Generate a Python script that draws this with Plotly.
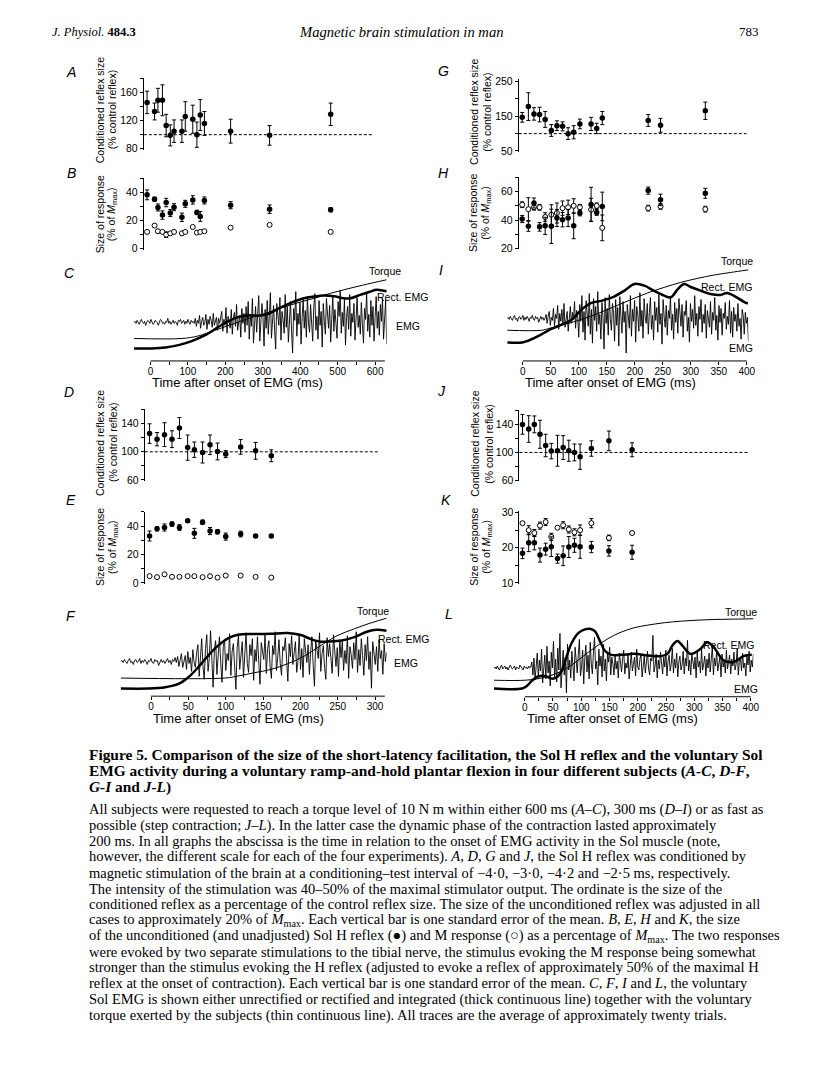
import numpy as np
import plotly.graph_objects as go

PAGE_W, PAGE_H = 816, 1070
BODY = 8                       # default body margin of the html page
W, H = PAGE_W - 2 * BODY, PAGE_H - 2 * BODY
SANS = "Liberation Sans, Arial, sans-serif"
SERIF = "Liberation Serif, Times New Roman, serif"

# ---------------- data: subject 1 (A-C, 600 ms ramp) ----------------
AB_time = [-9, 11, 20, 32, 42, 53, 63, 84, 93, 113, 124, 133, 144, 214, 318, 481]
A_cond = [146, 133, 149, 149, 113, 99, 105, 105, 126, 122, 100, 128, 116, 105, 99, 129]
A_cond_se = [16, 12, 17, 22, 16, 15, 16, 16, 21, 20, 18, 22, 17, 17, 14, 16]
B_H = [38.4, 35.3, 29.4, 24, 32.9, 25.4, 29.6, 22.4, 32, 34.8, 25.9, 23, 34.4, 31, 28.2, 27.8]
B_H_se = [3.5, 1.5, 2.5, 3, 3, 2.5, 2.5, 3, 2.5, 3, 1.5, 3.5, 2.5, 2.5, 3, 1.5]
B_M = [12, 16.5, 12.5, 12, 10, 11, 12, 11, 12, 15.5, 11.5, 12, 12.5, 15, 17, 12]
B_M_se = [0, 0, 0, 0, 2, 0, 0, 0, 0, 0, 0, 0, 0, 0, 0, 0]

C_torque_t = [-44, 84, 128, 172, 216, 260, 304, 349, 393, 437, 481, 525, 569, 631]
C_torque_v = [22.7, 22.7, 25.3, 31, 36.7, 42.7, 47.7, 53.3, 58.7, 63.3, 68.3, 72.7, 76.7, 82]
C_rect_t = [-44, 4, 40, 75, 110, 146, 181, 207, 234, 260, 287, 313, 340, 375, 410, 437,
            463, 490, 516, 534, 560, 587, 604, 631]
C_rect_v = [12.7, 12.7, 13.7, 16, 20, 26, 34.3, 40, 44.3, 46, 45.7, 47.3, 52.7, 58.7, 63.3, 65,
            66, 65.3, 63.3, 63.3, 66.7, 70, 72, 70.3]
C_emg_span = [-44, 631]
C_emg = [39, 40, 38, 41, 39, 37, 40, 42, 39, 38, 40, 36, 39, 41, 40, 38, 42, 39, 37, 38, 41, 40, 39,
         36, 40, 42, 41, 38, 39, 37, 40, 39, 43, 38, 40, 37, 39, 41, 38, 40, 39, 36, 41, 40, 42, 38,
         39, 41, 37, 40, 38, 42, 39, 37, 41, 39, 40, 38,
         43, 35, 41, 38, 46, 33, 40, 44, 36, 39, 47, 32, 42, 37, 45, 41, 34, 48, 36, 40, 44, 31, 43,
         38, 46,
         50, 30, 42, 36, 54, 28, 45, 40, 33, 52, 27, 44, 49, 35, 57, 31, 41, 46, 24, 53, 38, 48, 29,
         55, 36,
         60, 22, 47, 35, 63, 18, 41, 55, 29, 50, 66, 20, 38, 58, 44, 15, 52, 33, 61, 27, 45, 69, 23,
         39, 56, 31, 12, 58, 47, 36, 64, 21, 50, 42, 28, 67, 34, 55, 19, 46, 60, 30, 8, 53, 41, 70,
         25, 48, 37, 59, 17, 44, 62, 33, 51, 24, 65, 38, 29, 57, 43, 20, 54, 68, 31, 45, 22, 61, 36,
         50, 14, 58, 40, 27, 63, 47, 33, 56, 19, 42, 66, 30, 52, 38, 23, 60, 45, 71, 28, 49, 35, 62,
         16, 44, 55, 32, 67, 25, 48, 39, 58, 21, 51, 64, 34, 46, 27, 59, 37, 18, 53, 42, 69, 30, 47,
         24, 61, 36, 55, 20, 44, 65, 33, 50, 26, 57, 40, 63, 22, 48, 62, 17]

# ---------------- data: subject 2 (D-F, 300 ms ramp) ----------------
DE_time = [-2, 8, 18, 28, 38, 49, 58, 69, 79, 89, 100, 120, 140, 161]
D_cond = [126, 118, 124.5, 118, 134, 106, 103, 99, 110, 100.5, 96.7, 107, 101.4, 94.4]
D_cond_se = [14, 9.5, 17, 12, 15, 18, 11, 15, 14, 12, 5, 10.5, 12, 8.5]
E_H = [33, 38.1, 39, 41.4, 39, 43.7, 34.9, 42.8, 36.5, 36, 32.6, 34.4, 33, 33]
E_H_se = [3.5, 1.5, 2.5, 1.5, 2, 1, 3.5, 1.5, 2.5, 1.5, 2.5, 2, 1, 1]
E_M = [4.7, 4, 6, 4.2, 4.2, 4.7, 4.7, 4, 4.7, 3.7, 5.1, 5.1, 4.2, 3.7]
E_M_se = [0] * 14

F_torque_t = [-40.7, 98.7, 116.4, 138.5, 160.6, 182.7, 204.9, 227, 249.1, 271.2, 293.4, 315.5]
F_torque_v = [18.3, 18.3, 20.3, 23.7, 27, 32.7, 40.3, 51, 61, 67.7, 73.7, 78.7]
F_rect_t = [-40.7, -3, 19, 36.7, 50, 63.3, 76.5, 89.8, 103, 116.4, 138.5, 160.6, 182.7, 200.4,
            213.7, 227, 240.3, 253.5, 271.2, 289, 302, 315.5]
F_rect_v = [7.7, 7.7, 9, 12.3, 19, 29.3, 41, 51, 58.3, 62, 62.7, 63, 63.7, 61.7, 57.7, 55, 55.3,
            56, 59.3, 65, 67, 66]
F_emg_span = [-40.7, 315.5]
F_emg = [35, 36, 34, 37, 35, 33, 36, 38, 34, 35, 32, 36, 37, 34, 35, 38, 33, 36, 34, 37, 35, 32, 36,
         35, 38, 34, 33, 37, 35, 36, 31, 35, 37, 34, 36, 33, 35, 38, 34, 36, 32, 37, 35, 39, 34,
         40, 30, 37, 43, 29, 36, 41, 27, 45, 33, 39, 25, 47, 34, 29, 44,
         52, 20, 43, 58, 30, 17, 48, 62, 25, 38, 66, 28, 9, 47, 56, 22, 40, 60, 34, 14, 50, 57, 26,
         43, 36, 63, 21, 45, 53, 31, 7, 49, 61, 27, 39, 55, 19, 44, 64, 33, 24, 52, 41, 58, 16, 47,
         35, 60, 29, 12, 54, 45, 37, 62, 23, 48, 56, 30, 18, 51, 42, 65, 26, 39, 57, 33, 21, 50, 46,
         59, 28, 15, 53, 40, 61, 32, 44, 55, 24, 36, 63, 27, 48, 19, 58, 42, 34, 52, 22, 45, 60, 31,
         10, 56, 47, 38, 64, 25, 43, 51, 29, 17, 59, 40, 53, 35, 23, 62, 44, 30, 49, 20, 57, 39, 55,
         26, 46, 33, 61, 18, 50, 42, 28, 54, 37, 65, 24, 47, 31, 58, 41, 21, 52, 36, 60, 27, 45, 8,
         55, 43, 32, 50, 25, 57, 38, 46, 22, 53, 35, 44]

# ---------------- data: subject 3 (G-I, 300 ms ramp) ----------------
GH_time = [-1, 10, 20, 30, 40, 51, 61, 71, 81, 91, 102, 122, 132, 142, 224, 246, 326]
G_cond = [147, 178, 157, 155, 141, 109, 123, 121, 100, 104, 128, 128, 115, 145, 138, 124, 166]
G_cond_se = [14, 40, 18, 21, 23, 17, 14, 13, 17, 19, 14, 19, 15, 19, 17, 20, 25]
H_H = [40.8, 35.7, 52, 35.3, 36, 35.7, 41.5, 40.3, 41.5, 36, 45, 51, 45.4, 49.6, 60.7, 54.2, 58.8]
H_H_se = [2.5, 3.5, 3.5, 3, 6, 12, 6, 5, 6, 9, 2, 12, 2, 10, 2.5, 4, 3.5]
H_M = [50.8, 47.7, 49, 49, 42.2, 43.8, 45, 48.4, 49, 50, 49, 47.3, 50, 34.6, 48.4, 49.6, 47.7]
H_M_se = [2, 8, 2, 2, 3, 7, 7, 5, 5, 5, 2, 8, 2, 9, 2, 2, 2]

I_torque_t = [-28, 34, 46, 75.5, 105, 134.5, 164, 193.5, 223, 252.5, 282, 311.5, 341, 370.5, 403]
I_torque_v = [31, 31, 32.7, 37, 42, 48, 55, 62, 68.7, 74.3, 79.3, 83.3, 86.7, 89.3, 92]
I_rect_t = [-27.7, -1.2, 10.6, 28.3, 46, 63.7, 87.3, 105, 122.7, 140.4, 152.2, 164, 181.7, 199.4,
            217.1, 234.8, 252.5, 264.3, 276.1, 287.9, 299.7, 317.4, 335.1, 352.8, 364.6, 376.4,
            394.1, 401.8]
I_rect_v = [18.7, 18.7, 20.7, 25.3, 31, 35.3, 41.7, 52, 58.7, 60.7, 62.7, 65.3, 71, 77.7, 76,
            70.7, 66, 64.3, 72, 77.7, 74.7, 71, 67.7, 66.7, 68.7, 66, 60, 58]
I_emg_span = [-28, 403]
I_emg = [43, 44, 42, 45, 43, 41, 44, 46, 42, 43, 40, 44, 45, 42, 43, 46, 41, 44, 42, 45, 43, 40, 44,
         43, 46, 42, 41, 45, 43, 44, 39, 43, 45, 42, 44, 41, 43,
         47, 38, 45, 50, 36, 44, 41, 53, 35, 47, 43, 56, 32, 48, 40, 52, 37, 58, 34, 46, 50, 30, 44,
         55, 38, 49, 42, 60, 33, 51,
         44, 24, 57, 40, 66, 29, 50, 21, 61, 45, 35, 68, 27, 52, 18, 63, 41, 55, 30, 70, 37, 47, 22,
         59, 44, 12, 64, 38, 53, 26, 67, 42, 31, 58, 48, 20, 62, 36, 54, 15, 65, 45, 28, 60, 39, 50,
         8, 57, 43, 33, 66, 25, 52, 40, 61, 19, 55, 47, 30, 69, 35, 51, 23, 63, 44, 38, 58, 27, 49,
         64, 32, 46, 21, 60, 41, 54, 29, 67, 37, 48, 17, 62, 45, 34, 56, 26, 51, 43, 65, 31, 47, 22,
         59, 39, 53, 28, 63, 42, 35, 57, 24, 50, 46, 61, 30, 44, 19, 58, 40, 52, 33, 66, 36, 48, 25,
         55, 42, 62, 29, 47, 38, 57, 23, 51, 44, 34, 60, 27, 49, 41, 64, 31, 46, 21, 56, 39, 53, 26,
         48, 43, 59, 32, 45, 37, 61, 28, 50, 24, 54, 40, 47, 30, 58, 35, 43, 22, 52, 46, 27, 49, 38,
         44, 20]

# ---------------- data: subject 4 (J-L, step contraction) ----------------
JK_time = [-4, 7, 17, 27, 37, 47, 58, 68, 78, 88, 98, 118, 149, 190]
J_cond = [140, 133.4, 140, 125.9, 109.9, 101.9, 102.4, 107, 102.4, 100, 93.9, 105.6, 116.5, 103.8]
J_cond_se = [14, 19, 12, 20, 16, 11, 22, 17, 15, 12, 18, 11, 14, 10]
K_H = [18.4, 21.4, 21.4, 17.9, 19.6, 20.3, 16.9, 17.7, 20.2, 20.7, 20.3, 20.2, 19.1, 18.7]
K_H_se = [1.5, 2.5, 2, 2, 1.7, 2.8, 1.3, 2.8, 3, 2, 3.3, 1.6, 1.5, 2]
K_M = [27, 25, 24.2, 26.3, 27.3, 23.1, 25.7, 26.4, 25.2, 24.4, 25, 27, 22.8, 24.2]
K_M_se = [0, 1.3, 1, 1, 1, 1, 0, 1, 1, 1, 1.5, 1.3, 0.8, 0]

L_torque_t = [-54.4, 1.2, 30.4, 53.8, 77.2, 100.6, 124, 147.4, 170.8, 194, 217.5, 246.8, 276, 305,
              334.5, 363.7, 404.7]
L_torque_v = [16.7, 16.7, 19, 23, 29.7, 39.7, 49.7, 58.7, 65.3, 69.7, 72.3, 74.7, 76.3, 77.3, 78,
              78.3, 78.7]
L_rect_t = [-54.4, -4.7, 4, 12.9, 24.6, 36.3, 48, 56.7, 65.5, 74.3, 83, 94.7, 106.4, 115.2, 124,
            132.7, 141.5, 153.2, 170.8, 194.2, 217.5, 241, 252.6, 261.4, 270.2, 279, 293.6, 311,
            322.8, 334.5, 352, 369.6, 387, 401.8]
L_rect_v = [8.3, 8.3, 11, 16.3, 20.7, 21, 18.3, 19.7, 26.3, 41, 54.3, 64.3, 68, 68.7, 66.3, 56.7,
            46.7, 42.3, 42.3, 43.3, 41.7, 41, 43.3, 51.7, 56.3, 51.7, 43.3, 48.3, 55, 50, 36.7, 35,
            41, 42.3]
L_emg_span = [-54.4, 404.7]
L_emg = [29, 30, 28, 31, 29, 27, 30, 32, 28, 29, 31, 28, 30, 27, 29, 32, 30, 28, 29, 31, 27, 30, 29,
         28, 32, 30, 29, 27, 31, 29, 30, 28, 31, 29, 30,
         35, 22, 39, 17, 31, 44, 20, 37, 26, 48, 14, 33, 42, 18, 51, 24, 36, 11, 45, 29, 56, 20, 38,
         15, 49, 27, 64, 9, 34, 47, 22, 40, 4, 53, 27, 37, 19, 46, 32, 16, 50, 35, 24, 43, 58, 21,
         30, 47, 13, 39, 52, 25, 42, 18, 55, 33, 23, 45, 60, 28, 36, 12, 48, 31, 41, 20, 53, 26, 38,
         16, 44, 35, 50, 22, 40,
         33, 22, 41, 28, 36, 19, 44, 31, 25, 39, 47, 23, 34, 29, 42, 18, 37, 45, 26, 32, 40, 21, 48,
         30, 27, 38, 43, 20, 35, 41, 24, 33, 46, 28, 22, 39, 36, 62, 25, 31, 43, 19, 37, 28, 45, 34,
         23, 40, 30, 47, 21, 36, 42, 26, 33, 49, 24, 38, 29, 44, 20, 35, 41, 27, 32, 46, 23, 39, 31,
         57, 26, 37, 22, 43, 34, 28, 40, 19, 45, 30, 36, 24, 48, 27, 33, 41, 21, 38, 29, 44, 25, 35,
         51, 22, 39, 31, 46, 26, 34, 40, 20, 43, 30, 37, 24, 47, 28, 35, 42, 23, 38, 31, 45, 27, 33,
         49, 22, 36, 40, 26, 44, 29, 34, 21, 41, 32, 46, 25, 37, 30, 43]

# ---------------- text ----------------
CAPTION_HEAD = [
    "Figure 5. Comparison of the size of the short-latency facilitation, the Sol H reflex and the voluntary Sol",
    "EMG activity during a voluntary ramp-and-hold plantar flexion in four different subjects (<i>A-C</i>, <i>D-F</i>,",
    "<i>G-I</i> and <i>J-L</i>)",
]
CAPTION_BODY = [
    "All subjects were requested to reach a torque level of 10 N m within either 600 ms (<i>A–C</i>), 300 ms (<i>D–I</i>) or as fast as",
    "possible (step contraction; <i>J–L</i>). In the latter case the dynamic phase of the contraction lasted approximately",
    "200 ms. In all graphs the abscissa is the time in relation to the onset of EMG activity in the Sol muscle (note,",
    "however, the different scale for each of the four experiments). <i>A</i>, <i>D</i>, <i>G</i> and <i>J</i>, the Sol H reflex was conditioned by",
    "magnetic stimulation of the brain at a conditioning–test interval of −4·0, −3·0, −4·2 and −2·5 ms, respectively.",
    "The intensity of the stimulation was 40–50% of the maximal stimulator output. The ordinate is the size of the",
    "conditioned reflex as a percentage of the control reflex size. The size of the unconditioned reflex was adjusted in all",
    "cases to approximately 20% of <i>M</i><sub>max</sub>. Each vertical bar is one standard error of the mean. <i>B</i>, <i>E</i>, <i>H</i> and <i>K</i>, the size",
    "of the unconditioned (and unadjusted) Sol H reflex (●) and M response (○) as a percentage of <i>M</i><sub>max</sub>. The two responses",
    "were evoked by two separate stimulations to the tibial nerve, the stimulus evoking the M response being somewhat",
    "stronger than the stimulus evoking the H reflex (adjusted to evoke a reflex of approximately 50% of the maximal H",
    "reflex at the onset of contraction). Each vertical bar is one standard error of the mean. <i>C</i>, <i>F</i>, <i>I</i> and <i>L</i>, the voluntary",
    "Sol EMG is shown either unrectified or rectified and integrated (thick continuous line) together with the voluntary",
    "torque exerted by the subjects (thin continuous line). All traces are the average of approximately twenty trials.",
]

# ---------------- figure ----------------
fig = go.Figure()
layout = dict(width=W, height=H, margin=dict(l=0, r=0, t=0, b=0), paper_bgcolor="white",
              plot_bgcolor="rgba(0,0,0,0)", showlegend=False, annotations=[], shapes=[])
ann = layout["annotations"]
shp = layout["shapes"]


def px(x):
    return (x - BODY) / W


def py(y):
    return 1 - (y - BODY) / H


def axn(i):
    return ("x" if i == 1 else f"x{i}"), ("y" if i == 1 else f"y{i}")


def text(x, y, s, size=10.5, family=SANS, xanchor="center", angle=0, yanchor="middle"):
    ann.append(dict(x=px(x), y=py(y), xref="paper", yref="paper", text=s, showarrow=False,
                    font=dict(family=family, size=size, color="black"), xanchor=xanchor,
                    yanchor=yanchor, textangle=angle))


TICKFONT = dict(family=SANS, size=10.5, color="black")
MINOR = dict(ticks="outside", ticklen=3, tickwidth=1, tickcolor="black", showgrid=False)


def scatter_panel(i, xdom, ydom, xr, yr, major, minor):
    xa, ya = axn(i)
    layout["xaxis" + xa[1:]] = dict(domain=[px(xdom[0]), px(xdom[1])], range=xr, visible=False,
                                    anchor=ya)
    layout["yaxis" + ya[1:]] = dict(domain=[py(ydom[1]), py(ydom[0])], range=yr, anchor=xa,
                                    showline=True, linecolor="black", linewidth=1, ticks="outside",
                                    ticklen=3, tickwidth=1, tickcolor="black", tickvals=major,
                                    ticktext=[str(v) for v in major], tickfont=TICKFONT,
                                    minor=dict(tickvals=minor, **MINOR),
                                    showgrid=False, zeroline=False)


def points(i, t, v, se, filled):
    xa, ya = axn(i)
    fig.add_trace(go.Scatter(
        x=t, y=v, xaxis=xa, yaxis=ya, mode="markers", cliponaxis=False,
        error_y=dict(type="data", array=se, visible=True, color="black", thickness=1, width=2),
        marker=dict(size=5.5 if filled else 5, color="black" if filled else "white",
                    line=dict(color="black", width=0 if filled else 1))))


def dashed(i, level):
    xa, ya = axn(i)
    shp.append(dict(type="line", xref=xa + " domain", yref=ya, x0=0, x1=1, y0=level, y1=level,
                    line=dict(color="black", width=1, dash="3px,2px")))


def trace_panel(i, xdom, ydom, xr, major, minor, line_end):
    xa, ya = axn(i)
    layout["xaxis" + xa[1:]] = dict(domain=[px(xdom[0]), px(xdom[1])], range=xr, anchor=ya,
                                    showline=False, ticks="outside", ticklen=3, tickwidth=1,
                                    tickcolor="black", tickvals=major,
                                    ticktext=[str(v) for v in major],
                                    tickfont=dict(family=SANS, size=10, color="black"),
                                    ticklabelstandoff=-2, minor=dict(tickvals=minor, **MINOR),
                                    showgrid=False, zeroline=False)
    layout["yaxis" + ya[1:]] = dict(domain=[py(ydom[1]), py(ydom[0])],
                                    range=[0, ydom[1] - ydom[0]], visible=False, anchor=xa)
    shp.append(dict(type="line", xref=xa, yref=ya + " domain", x0=0, x1=line_end, y0=0, y1=0,
                    line=dict(color="black", width=1)))


def traces(i, tq_t, tq_v, re_t, re_v, emg, span):
    xa, ya = axn(i)
    emg_t = np.linspace(span[0], span[1], len(emg))
    fig.add_trace(go.Scatter(x=emg_t, y=emg, xaxis=xa, yaxis=ya, mode="lines",
                             line=dict(color="black", width=0.9)))
    fig.add_trace(go.Scatter(x=tq_t, y=tq_v, xaxis=xa, yaxis=ya, mode="lines",
                             line=dict(color="black", width=1, shape="spline", smoothing=1)))
    fig.add_trace(go.Scatter(x=re_t, y=re_v, xaxis=xa, yaxis=ya, mode="lines",
                             line=dict(color="black", width=2.5, shape="spline", smoothing=1)))


def ytitle(x1, x2, yc, l1, l2):
    text(x1, yc, l1, angle=-90)
    text(x2, yc, l2, angle=-90)


# ---- left column ----
scatter_panel(1, [145, 377], [74, 146], [-17.7, 596], [78.6, 180.2], [80, 120, 160], [100, 140, 180])
dashed(1, 100)
points(1, AB_time, A_cond, A_cond_se, True)

scatter_panel(2, [145, 377], [175, 247], [-17.7, 596], [-0.7, 50.1], [0, 20, 40], [10, 30, 50])
points(2, AB_time, B_M, B_M_se, False)
points(2, AB_time, B_H, B_H_se, True)

trace_panel(3, [135, 390], [262, 359.3], [-44.2, 630.8],
            list(range(0, 601, 100)), list(range(50, 601, 100)), 626)
traces(3, C_torque_t, C_torque_v, C_rect_t, C_rect_v, C_emg, C_emg_span)

scatter_panel(4, [146, 382], [407.3, 480], [-8.4, 304.9], [59, 161.8], [60, 100, 140], [80, 120, 160])
dashed(4, 100)
points(4, DE_time, D_cond, D_cond_se, True)

scatter_panel(5, [146, 382], [511.7, 584], [-8.4, 304.9], [-0.5, 50], [0, 20, 40], [10, 30, 50])
points(5, DE_time, E_M, E_M_se, False)
points(5, DE_time, E_H, E_H_se, True)

trace_panel(6, [121.7, 390], [603, 697.7], [-40.6, 315.5],
            list(range(0, 301, 50)), list(range(25, 301, 50)), 313)
traces(6, F_torque_t, F_torque_v, F_rect_t, F_rect_v, F_emg, F_emg_span)

# ---- right column ----
scatter_panel(7, [523.3, 753], [75, 148.3], [-7.1, 399.5], [47.1, 256.6], [50, 150, 250], [100, 200])
dashed(7, 100)
points(7, GH_time, G_cond, G_cond_se, True)

scatter_panel(8, [523.3, 753], [173.3, 246.7], [-7.1, 399.5], [19.5, 70.4], [20, 40, 60], [30, 50, 70])
points(8, GH_time, H_M, H_M_se, False)
points(8, GH_time, H_H, H_H_se, True)

trace_panel(9, [511.7, 755], [252, 359.3], [-27.6, 403],
            list(range(0, 401, 50)), [], 400)
traces(9, I_torque_t, I_torque_v, I_rect_t, I_rect_v, I_emg, I_emg_span)

scatter_panel(10, [524, 755], [408.3, 480.7], [-9.3, 396], [59, 161.2], [60, 100, 140], [80, 120, 160])
dashed(10, 100)
points(10, JK_time, J_cond, J_cond_se, True)

scatter_panel(11, [524, 755], [511, 584], [-9.3, 396], [9.8, 30.4], [10, 20, 30], [15, 25])
points(11, JK_time, K_M, K_M_se, False)
points(11, JK_time, K_H, K_H_se, True)

trace_panel(12, [498.3, 760], [603, 698.3], [-54.4, 404.7],
            list(range(0, 401, 50)), list(range(25, 401, 50)), 400)
traces(12, L_torque_t, L_torque_v, L_rect_t, L_rect_v, L_emg, L_emg_span)

# ---- axis titles ----
COND1, COND2 = "Conditioned reflex size", "(% control reflex)"
SIZE1, SIZE2 = "Size of response", "(% of <i>M</i><sub>max</sub>)"
ytitle(101, 113, 106, COND1, COND2)
ytitle(101, 113, 211, SIZE1, SIZE2)
ytitle(101, 114, 442, COND1, COND2)
ytitle(101, 114, 547, SIZE1, SIZE2)
ytitle(478, 491, 108, COND1, COND2)
ytitle(477, 490, 210, SIZE1, SIZE2)
ytitle(479, 493, 443, COND1, COND2)
ytitle(478, 491, 547, SIZE1, SIZE2)

TTITLE = "Time after onset of EMG (ms)"
text(151.7, 381, TTITLE, size=13, xanchor="left")
text(527.3, 381, TTITLE, size=13, xanchor="left")
text(152.3, 720.5, TTITLE, size=13, xanchor="left")
text(529.3, 720.5, TTITLE, size=13, xanchor="left")

# ---- trace labels ----
for (x, y, s) in [(370, 268, "Torque"), (378, 295, "Rect. EMG"), (397, 324, "EMG"),
                  (725, 258, "Torque"), (705, 285, "Rect. EMG"), (733, 346, "EMG"),
                  (358, 612, "Torque"), (379, 640, "Rect. EMG"), (395, 664, "EMG"),
                  (729, 613, "Torque"), (707, 646, "Rect. EMG"), (738, 690, "EMG")]:
    text(x, y, s, size=10.5, xanchor="left")

# ---- panel letters ----
for (x, y, s) in [(72, 68, "A"), (72, 170, "B"), (70, 270, "C"), (70, 391, "D"), (72, 500, "E"),
                  (72, 617, "F"), (447, 67, "G"), (447, 170, "H"), (445, 267, "I"), (445, 390, "J"),
                  (450, 500, "K"), (453, 615, "L")]:
    text(x, y, "<i>" + s + "</i>", size=14)

# ---- page header ----
text(50, 27, "<i>J. Physiol.</i> <b>484.3</b>", size=12.5, family=SERIF, xanchor="left")
text(405, 27, "<i>Magnetic brain stimulation in man</i>", size=14.6, family=SERIF)
text(768, 27, "783", size=13, family=SERIF, xanchor="right")

# ---- caption ----
for k, line in enumerate(CAPTION_HEAD):
    text(88, 757 + 16 * k, "<b>" + line + "</b>", size=15.4, family=SERIF, xanchor="left")
for k, line in enumerate(CAPTION_BODY):
    text(88, 812 + 16 * k, line, size=14.5, family=SERIF, xanchor="left")

fig.update_layout(**layout)
fig.write_html("out.html")
